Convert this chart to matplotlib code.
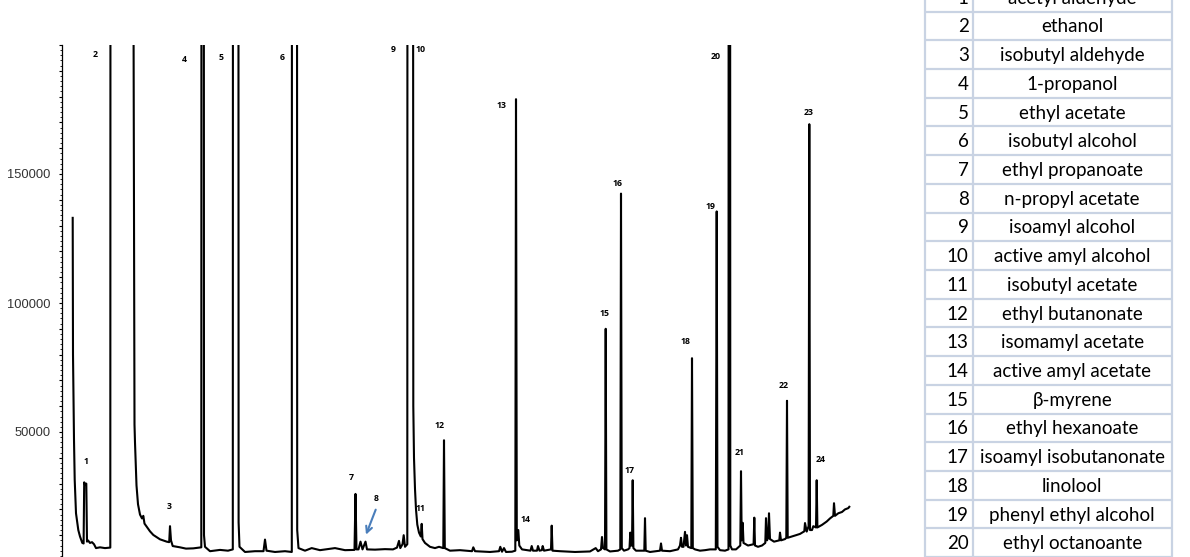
import matplotlib
matplotlib.use("Agg")
import matplotlib.pyplot as plt
from matplotlib.ticker import MultipleLocator, FuncFormatter

# ---------------- data ----------------
# chromatogram trace: retention time (min) and detector signal
rt_min = [
    0.535, 0.55, 0.565, 0.60, 0.635, 0.70, 0.815, 0.90, 1.015, 1.08,
    1.11, 1.16, 1.215, 1.25, 1.30, 1.40, 1.50, 1.60, 1.70, 1.90,
    2.15, 2.415, 2.445, 3.55, 3.58, 3.625, 3.65, 3.725, 3.80, 3.90,
    4.00, 4.065, 4.125, 4.235, 4.40, 4.565, 4.90, 5.235, 5.36, 5.40,
    5.45, 5.535, 5.90, 6.20, 6.565, 6.90, 6.965, 6.99, 7.07, 7.10,
    7.15, 7.40, 7.90, 8.30, 8.54, 8.565, 8.80, 8.83, 8.875, 9.15,
    9.65, 10.075, 10.15, 10.225, 10.65, 11.15, 11.49, 11.515, 11.725, 11.76,
    11.825, 12.15, 12.485, 12.90, 13.65, 14.15, 14.625, 14.675, 14.725, 14.825,
    14.925, 15.025, 15.175, 15.25, 15.65, 16.15, 16.55, 16.75, 16.85, 16.915,
    17.025, 17.085, 17.15, 17.265, 17.29, 17.515, 17.565, 17.60, 17.65, 17.70,
    17.765, 17.85, 17.94, 17.985, 18.025, 18.15, 18.40, 18.65, 18.85, 19.065,
    19.10, 19.14, 19.40, 19.90, 20.50, 20.565, 20.65, 21.40, 21.85, 21.915,
    22.00, 22.10, 22.20, 22.50, 22.665, 22.70, 22.74, 22.815, 22.865, 23.00,
    23.425, 23.485, 23.55, 23.75, 23.80, 23.875, 23.99, 24.035, 24.10, 24.45,
    24.485, 24.525, 24.90, 25.65, 26.40, 26.685, 26.80, 26.95, 27.00, 27.05,
    27.15, 27.185, 27.22, 27.40, 27.80, 27.915, 27.95, 27.99, 28.10, 28.30,
    28.375, 28.415, 28.45, 28.50, 28.535, 28.57, 28.70, 29.115, 29.15, 29.185,
    29.40, 29.90, 29.95, 30.00, 30.40, 30.80, 30.90, 30.95, 31.00, 31.075,
    31.15, 31.20, 31.25, 31.30, 31.465, 31.50, 31.54, 31.65, 31.90, 32.15,
    32.40, 32.69, 32.735, 32.775, 32.90, 33.15, 33.325, 33.35, 33.385, 33.415,
    33.50, 33.70, 33.915, 33.95, 33.985, 34.035, 34.075, 34.30, 34.58, 34.615,
    34.65, 34.80, 35.00, 35.165, 35.20, 35.25, 35.31, 35.35, 35.40, 35.60,
    35.865, 35.90, 35.95, 36.15, 36.215, 36.25, 36.285, 36.50, 36.70, 36.90,
    37.115, 37.15, 37.235, 37.33, 37.365, 37.40, 37.50, 37.565, 37.70, 37.735,
    37.77, 38.00, 38.235, 38.40, 38.565, 38.60, 38.65, 38.815, 39.00, 39.15,
    39.315, 39.365,
]
signal = [
    133000, 80000, 70000, 47000, 31500, 18500, 12000, 9500, 7000, 6800,
    30500, 29500, 30000, 7500, 8000, 7000, 7300, 6500, 5000, 5300,
    5000, 5200, 900000, 900000, 200000, 52900, 45900, 29300, 22000, 18000,
    16500, 17500, 14500, 13300, 11500, 10100, 8400, 7500, 7300, 13500,
    8000, 5800, 5300, 4800, 4900, 5200, 5300, 900000, 900000, 10000,
    5500, 3800, 4300, 4000, 4500, 900000, 900000, 15000, 5500, 3500,
    3800, 3800, 8300, 4000, 3500, 3800, 3500, 900000, 900000, 12000,
    5000, 4000, 5000, 4200, 5000, 4200, 4300, 26000, 4500, 4500,
    7500, 4500, 7500, 4500, 4400, 4600, 4500, 5200, 7800, 5000,
    6500, 10000, 5500, 6500, 900000, 900000, 60000, 40000, 27900, 20000,
    14100, 11000, 9500, 14400, 8500, 7000, 5500, 5000, 5500, 5000,
    46800, 5000, 4000, 4200, 3800, 5300, 3800, 3500, 3800, 5500,
    3600, 5000, 3500, 3600, 4000, 179000, 8000, 12000, 6000, 4500,
    4000, 5800, 4000, 4000, 5800, 4000, 4200, 5800, 4000, 4500,
    13700, 4000, 3800, 3500, 3700, 5000, 3800, 4500, 9300, 5000,
    4500, 90000, 4500, 3700, 4000, 4500, 142400, 5000, 4000, 4500,
    5000, 11000, 6000, 6000, 31300, 5000, 4000, 4000, 16600, 4000,
    3500, 4000, 6800, 4000, 3800, 4500, 6000, 9000, 5500, 5500,
    11300, 6000, 10000, 5500, 5000, 78600, 5000, 4500, 4000, 4200,
    4500, 4500, 135500, 5500, 4200, 4000, 4500, 900000, 900000, 6000,
    4500, 4500, 6000, 34800, 8000, 14800, 7000, 6000, 6500, 16800,
    6000, 5500, 6000, 7000, 16600, 8000, 9000, 18500, 8500, 7500,
    8000, 11000, 8000, 8500, 9000, 62100, 9000, 9500, 10000, 10500,
    11500, 14700, 11400, 13500, 169300, 12000, 12000, 13500, 13000, 31300,
    13000, 14000, 15300, 16500, 17500, 22400, 17500, 18500, 19000, 20000,
    20500, 21000,
]

# peak numbers and where their labels sit (rt, signal)
peak_labels = [str(i) for i in range(1, 25)]
label_rt = [1.185, 1.65, 5.35, 6.10, 7.935, 11.035, 14.485, 15.70, 16.55, 17.915,
            17.915, 18.865, 21.95, 23.185, 27.15, 27.765, 28.365, 31.185, 32.415, 32.685,
            33.90, 36.10, 37.335, 37.95]
label_signal = [38400, 196200, 21100, 194200, 195300, 195300, 32400, 24100, 198100, 198100,
                20300, 52700, 176600, 16100, 95800, 146300, 35200, 85100, 137300, 195500,
                42100, 68200, 173900, 39300]

# arrow pointing at peak 8 (tail -> head)
arrow_rt = [15.735, 15.15]
arrow_signal = [20900, 9200]

y_labelled_ticks = [50000, 100000, 150000]

compound_no = list(range(1, 21))
compound_names = [
    "acetyl aldehyde", "ethanol", "isobutyl aldehyde", "1-propanol", "ethyl acetate",
    "isobutyl alcohol", "ethyl propanoate", "n-propyl acetate", "isoamyl alcohol",
    "active amyl alcohol", "isobutyl acetate", "ethyl butanonate", "isomamyl acetate",
    "active amyl acetate", "\u03b2-myrene", "ethyl hexanoate", "isoamyl isobutanonate",
    "linolool", "phenyl ethyl alcohol", "ethyl octanoante",
]

# ---------------- figure ----------------
W, H = 1190, 557
fig = plt.figure(figsize=(W / 100, H / 100), dpi=100)

ax = fig.add_axes([62 / W, 1 - 561 / H, 800 / W, 516 / H])
ax.plot(rt_min, signal, color="black", lw=1.5, solid_joinstyle="round")
ax.set_xlim(0, 40)
ax.set_ylim(0, 200000)
for s in ("top", "right", "bottom"):
    ax.spines[s].set_visible(False)
ax.spines["left"].set_linewidth(0.9)
ax.set_xticks([])
ax.yaxis.set_major_locator(MultipleLocator(10000))
ax.yaxis.set_minor_locator(MultipleLocator(2000))
ax.yaxis.set_major_formatter(FuncFormatter(
    lambda v, p: f"{int(round(v))}" if int(round(v)) in y_labelled_ticks else ""))
ax.tick_params(axis="y", which="major", length=2.5, width=0.8, pad=6,
               labelsize=9.3, labelcolor="#333333")
ax.tick_params(axis="y", which="minor", length=1.3, width=0.6)
for lab in ax.get_yticklabels():
    lab.set_family("Liberation Sans")

for t, x, y in zip(peak_labels, label_rt, label_signal):
    ax.text(x, y, t, ha="center", va="center", fontsize=6.3, fontweight="bold",
            family="Open Sans", color="black")

ax.annotate("", xy=(arrow_rt[1], arrow_signal[1]), xytext=(arrow_rt[0], arrow_signal[0]),
            arrowprops=dict(arrowstyle="->", color="#4a7ebb", lw=1.5, mutation_scale=11))

# ---------------- table ----------------
tab = fig.add_axes([0, 0, 1, 1])
tab.set_xlim(0, W)
tab.set_ylim(H, 0)
tab.axis("off")
grid_col = "#c9d3e3"
x_left, x_mid, x_right = 925, 972.7, 1171.7
row_h = 28.72
y0 = 11.5 - row_h
n = len(compound_no)
for k in range(n + 1):
    yy = y0 + k * row_h
    tab.plot([x_left, x_right], [yy, yy], color=grid_col, lw=1.6, solid_capstyle="butt")
for xx in (x_left, x_mid, x_right):
    tab.plot([xx, xx], [y0, y0 + n * row_h], color=grid_col, lw=1.6, solid_capstyle="butt")
for i, (num, name) in enumerate(zip(compound_no, compound_names)):
    yc = y0 + (i + 0.5) * row_h + 1
    tab.text(x_mid - 4, yc, str(num), ha="right", va="center", fontsize=13.5,
             family="Lato", color="black")
    tab.text((x_mid + x_right) / 2, yc, name, ha="center", va="center", fontsize=13.5,
             family=["Lato", "DejaVu Sans"], color="black")

fig.savefig("out.png", dpi=100)
